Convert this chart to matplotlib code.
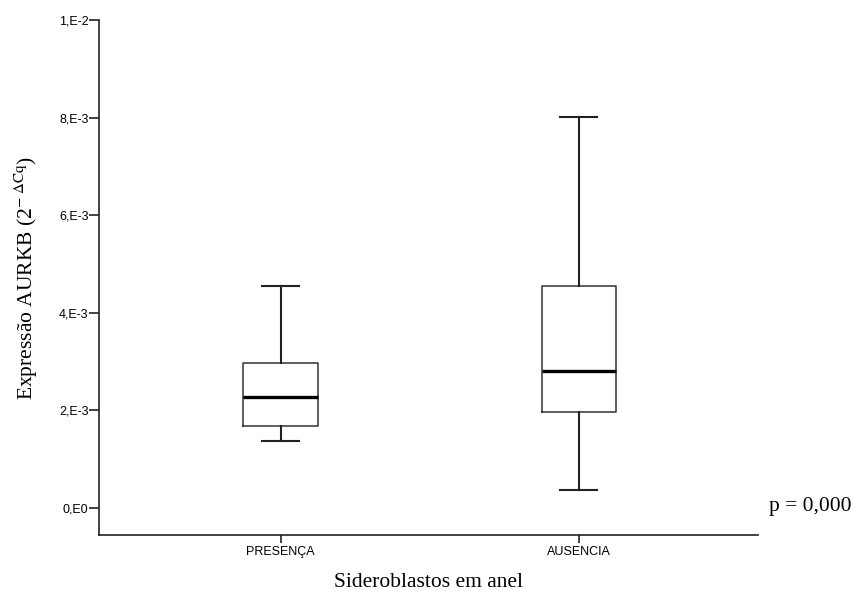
import matplotlib
matplotlib.use("Agg")
import matplotlib.pyplot as plt

categories = ["PRESENÇA", "AUSENCIA"]
whisker_low = [1.36e-3, 0.36e-3]
q1 = [1.67e-3, 1.96e-3]
median = [2.27e-3, 2.80e-3]
q3 = [2.96e-3, 4.54e-3]
whisker_high = [4.54e-3, 8.01e-3]
y_ticks = [0, 2e-3, 4e-3, 6e-3, 8e-3, 1e-2]
y_tick_labels = ["0,E0", "2,E-3", "4,E-3", "6,E-3", "8,E-3", "1,E-2"]

plt.rcParams["mathtext.fontset"] = "stix"

fig = plt.figure(figsize=(8.56, 5.94), dpi=100)
ax = fig.add_axes([99/856, 1-535/594, (758-99)/856, (535-20)/594])

stats = []
for i, c in enumerate(categories):
    stats.append(dict(label=c, whislo=whisker_low[i], q1=q1[i], med=median[i],
                      q3=q3[i], whishi=whisker_high[i], fliers=[]))

ax.bxp(stats, positions=range(len(categories)), widths=0.25, showfliers=False,
       boxprops=dict(color="#333333", linewidth=1.1),
       medianprops=dict(color="black", linewidth=2.4),
       whiskerprops=dict(color="#222222", linewidth=1.5),
       capprops=dict(color="#222222", linewidth=1.5), capwidths=0.125)

ax.set_xlim(-0.609, 1.601)
ax.set_ylim(-0.564e-3, 1e-2)
ax.set_yticks(y_ticks)
ax.set_yticklabels(y_tick_labels, family="Liberation Sans", fontsize=9)
ax.set_xticks(range(len(categories)))
ax.set_xticklabels(categories, family="Liberation Sans", fontsize=9)
ax.spines["top"].set_visible(False)
ax.spines["right"].set_visible(False)
for s in ("left", "bottom"):
    ax.spines[s].set_linewidth(1.2)
    ax.spines[s].set_color("#222222")
ax.tick_params(axis="y", length=7, width=1.2, color="#222222", pad=0.5)
ax.tick_params(axis="x", length=6, width=1.2, color="#222222", pad=2)

ax.set_ylabel("Expressão AURKB (2$^{\\mathrm{-\\ \\Delta Cq}}$)", family="Liberation Serif",
              fontsize=15.5, labelpad=14)
ax.set_xlabel("Sideroblastos em anel", family="Liberation Serif", fontsize=15.5, labelpad=11)

fig.text(769/856, 1-507/594, "p = 0,000", family="Liberation Serif", fontsize=15.5,
         ha="left", va="center")

fig.savefig("out.png", dpi=100)
